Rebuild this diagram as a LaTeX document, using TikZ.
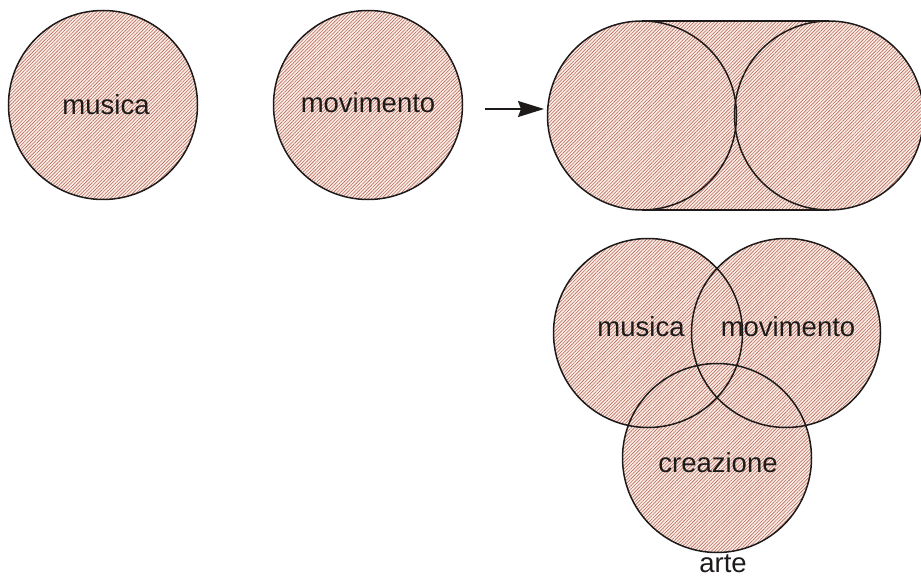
\documentclass[tikz,border=0pt]{standalone}
\usepackage{fontspec}
\setmainfont{Liberation Sans}
\usetikzlibrary{patterns.meta,arrows.meta}
\definecolor{hatchbg}{RGB}{249,238,232}
\definecolor{hatchline}{RGB}{188,104,86}
\definecolor{ink}{RGB}{30,26,26}
\tikzset{
  hatch/.style={fill=hatchbg,postaction={pattern={Lines[angle=45,distance=2.4pt,line width=0.6pt]},pattern color=hatchline}},
  outline/.style={draw=ink,line width=1.5pt},
  word/.style={anchor=base,text=ink,font=\fontsize{27.5}{30}\selectfont},
  arrow/.style={draw=ink,line width=1.6pt,-{Stealth[length=26pt,width=16pt,inset=3pt]}}
}

\begin{document}
\begin{tikzpicture}[x=1pt,y=-1pt]
    \useasboundingbox (0,0) rectangle (921,577);

    \coordinate (mus) at (103,105);   \coordinate (mov) at (368,105);
    \coordinate (sx) at (642,115.5);  \coordinate (dx) at (829,115.5);
    \coordinate (vmus) at (648,333);  \coordinate (vmov) at (786,333);
    \coordinate (vcre) at (717,458);

    % fondo tratteggiato
    \foreach \c in {mus,mov,sx,dx,vmus,vmov,vcre} \fill[hatch] (\c) circle (94.5);
    \fill[hatch] (642,21) rectangle (829,210);

    % contorni
    \foreach \c in {mus,mov,sx,dx,vmus,vmov,vcre} \draw[outline] (\c) circle (94.5);
    \draw[outline] (642,21) -- (829,21);
    \draw[outline] (642,210) -- (829,210);

    \node[word] (tmus) at (106,115) {musica};
    \node[word] (tmov) at (368,113) {movimento};
    \node[word] (tvmus) at (641,337) {musica};
    \node[word] (tvmov) at (788,337) {movimento};
    \node[word] (tvcre) at (718,472) {creazione};
    \node[word] (tarte) at (723,572) {arte};

    \coordinate (a0) at (485,109);  \coordinate (a1) at (544,109);
    \draw[arrow] (a0) -- (a1);

\end{tikzpicture}
\end{document}
